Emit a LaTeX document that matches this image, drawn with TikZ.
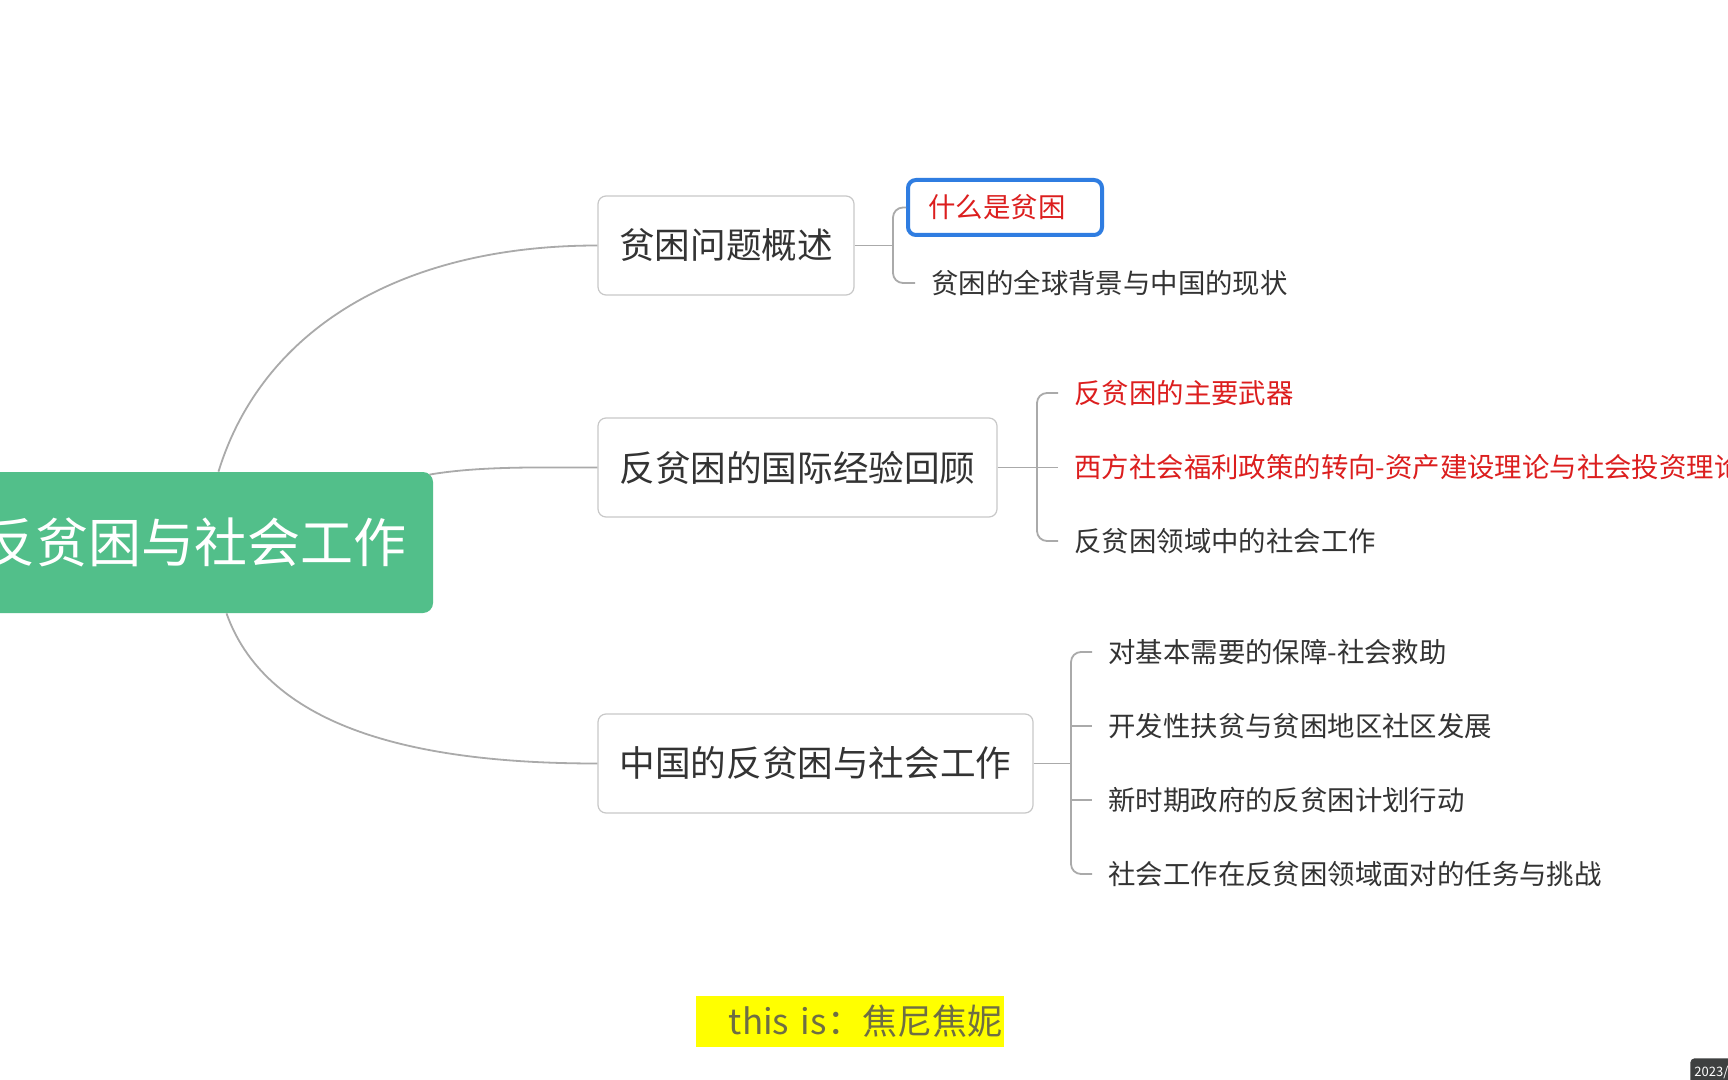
\documentclass[tikz,border=0pt]{standalone}
\usepackage{fontspec}
\setmainfont{Noto Sans CJK SC}
\usetikzlibrary{calc}
\definecolor{mgreen}{HTML}{52BF8A}
\definecolor{mred}{HTML}{DC1E1E}
\definecolor{mblue}{HTML}{2F7DE1}
\definecolor{mtext}{HTML}{333333}
\definecolor{mline}{HTML}{AAAAAA}
\definecolor{mborder}{HTML}{C8C8C8}
\definecolor{myellow}{HTML}{FFFF00}
\definecolor{mlabel}{HTML}{6E6E44}
\definecolor{mdate}{HTML}{3E4040}
\begin{document}
\begin{tikzpicture}[x=0.5pt,y=-0.5pt,
  conn/.style={draw=mline,line width=0.9pt},
  branchbox/.style={draw=mborder,line width=0.6pt,rounded corners=4pt,fill=white,
    inner sep=0pt,minimum height=49.5pt,text=mtext,font=\fontsize{17.8}{20}\selectfont},
  leaf/.style={anchor=west,inner xsep=8pt,inner ysep=0pt,text=mtext,font=\fontsize{13.7}{16}\selectfont},
  redleaf/.style={leaf,text=mred}]
\clip (0,0) rectangle (1728,1080);
\fill[white] (0,0) rectangle (1728,1080);
% central node
\node[fill=mgreen,rounded corners=5pt,minimum width=226.5pt,minimum height=70.5pt,inner sep=0pt,
  text=white,font=\fontsize{26.5}{30}\selectfont] (c) at (206.5,542.5) {\hspace*{-12pt}反贫困与社会工作};
% branch boxes
\node[branchbox,minimum width=128pt] (b1) at (726,245.5) {贫困问题概述};
\node[branchbox,minimum width=199.5pt] (b2) at (797.5,467.5) {反贫困的国际经验回顾};
\node[branchbox,minimum width=217.5pt] (b3) at (815.5,763.5) {中国的反贫困与社会工作};
% curved connectors
\draw[conn] ($(c.north)+(12,0)$) .. controls (262,330) and (400,245.5) .. (b1.west);
\draw[conn] ($(c.north east)+(-4,3)$) .. controls (480,466) and (540,467.5) .. (b2.west);
\draw[conn] ($(c.south)+(20,0)$) .. controls (268,730) and (420,763.5) .. (b3.west);
% leaves of branch 1
\node[draw=mblue,line width=2pt,rounded corners=4pt,minimum width=97pt,minimum height=27.5pt,
  inner sep=0pt,text=mred,font=\fontsize{13.7}{16}\selectfont] (l11) at (1005,207.5) {\hspace*{-8pt}什么是贫困};
\node[leaf] (l12) at (915,283) {贫困的全球背景与中国的现状};
\coordinate (k1) at (893,245.5);
\draw[conn] (b1.east) -- (k1);
\draw[conn,rounded corners=5pt] (l11.west) -- (l11.west -| k1) -- (l12.west -| k1) -- (l12.west);
% leaves of branch 2
\node[redleaf] (l21) at (1058,393) {反贫困的主要武器};
\node[redleaf] (l22) at (1058,467.5) {西方社会福利政策的转向-资产建设理论与社会投资理论};
\node[leaf] (l23) at (1058,541) {反贫困领域中的社会工作};
\coordinate (k2) at (1037,467.5);
\draw[conn] (b2.east) -- (l22.west);
\draw[conn,rounded corners=5pt] (l21.west) -- (l21.west -| k2) -- (l23.west -| k2) -- (l23.west);
% leaves of branch 3
\node[leaf] (l31) at (1092,652) {对基本需要的保障-社会救助};
\node[leaf] (l32) at (1092,726) {开发性扶贫与贫困地区社区发展};
\node[leaf] (l33) at (1092,800) {新时期政府的反贫困计划行动};
\node[leaf] (l34) at (1092,874) {社会工作在反贫困领域面对的任务与挑战};
\coordinate (k3) at (1071,763.5);
\draw[conn] (b3.east) -- (k3);
\draw[conn,rounded corners=5pt] (l31.west) -- (l31.west -| k3) -- (l34.west -| k3) -- (l34.west);
\draw[conn] (l32.west -| k3) -- (l32.west);
\draw[conn] (l33.west -| k3) -- (l33.west);
% watermark label
\node[fill=myellow,minimum height=25.5pt,inner xsep=1pt,inner ysep=0pt,text width=152pt,align=right,
  text=mlabel,font=\fontsize{17.5}{20}\selectfont] (wm) at (850,1021.5) {this is：焦尼焦妮};
% date tag
\node[fill=mdate,rounded corners=2pt,anchor=north west,minimum width=30pt,minimum height=14pt,
  inner xsep=2pt,text=white,font=\fontsize{6.5}{8}\selectfont,align=left,text width=30pt] (dt) at (1690,1058) {2023/};
\end{tikzpicture}
\end{document}
